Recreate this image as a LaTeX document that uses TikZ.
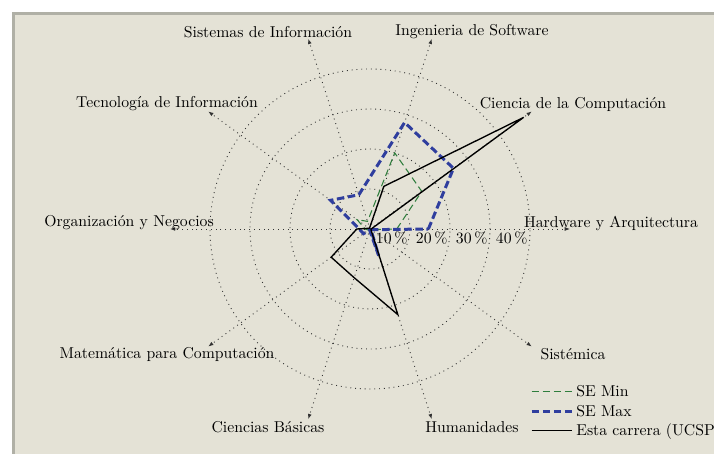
\documentclass[tikz,border=0pt]{standalone}
\usetikzlibrary{arrows.meta}
\definecolor{bgbeige}{HTML}{E4E2D6}
\definecolor{framegray}{HTML}{B0B0A6}
\definecolor{semin}{HTML}{2E7D3C}
\definecolor{semax}{HTML}{2F3E9E}
\tikzset{
  gridline/.style={line width=0.6pt, dash pattern=on 0.6pt off 2.6pt, black!80},
  axisline/.style={gridline, -{Latex[length=3.5pt,width=2.6pt]}},
  lbl/.style={inner sep=0pt},
  pct/.style={inner sep=1.5pt, anchor=north east},
  minline/.style={semin, line width=0.7pt, dash pattern=on 4.667pt off 2.667pt},
  maxline/.style={semax, line width=2pt, dash pattern=on 5pt off 2.4pt},
  ucspline/.style={black, line width=0.9pt, line join=miter},
  legtext/.style={inner sep=0pt, anchor=base west},
}
\begin{document}
\begin{tikzpicture}[x=0.6667pt,y=0.6667pt, every node/.style={font=\fontsize{10.5}{12.6}\selectfont}]
\clip (-370,-225) rectangle (344,229);
\fill[white] (-370,-225) rectangle (344,229);
\draw[framegray, line width=2pt, fill=bgbeige] (-356.5,215.5) rectangle (420,-300);
\coordinate (O) at (0,0);
% grid circles
\foreach \r in {40,80,120,160} \draw[gridline] (O) circle[radius=\r];
% axis ends
\coordinate (eH) at (0:200);
\coordinate (eCC) at (36:200);
\coordinate (eIS) at (72:200);
\coordinate (eSI) at (108:200);
\coordinate (eTI) at (144:200);
\coordinate (eON) at (180:200);
\coordinate (eMC) at (216:200);
\coordinate (eCB) at (252:200);
\coordinate (eHU) at (288:200);
\coordinate (eSM) at (324:200);
\foreach \e in {eH,eCC,eIS,eSI,eTI,eON,eMC,eCB,eHU,eSM} \draw[axisline] (O) -- (\e);
% axis labels
\node[lbl] (lH) at (241,6) {Hardware y Arquitectura};
\node[lbl] (lCC) at (203,125) {Ciencia de la Computación};
\node[lbl] (lIS) at (102,197) {Ingenieria de Software};
\node[lbl] (lSI) at (-102,197) {Sistemas de Información};
\node[lbl] (lTI) at (-203,125) {Tecnología de Información};
\node[lbl] (lON) at (-241,6) {Organización y Negocios};
\node[lbl] (lMC) at (-203,-125) {Matemática para Computación};
\node[lbl] (lCB) at (-102,-198) {Ciencias Básicas};
\node[lbl] (lHU) at (102,-198) {Humanidades};
\node[lbl] (lSM) at (203,-125) {Sistémica};
% data
\draw[minline] (0:26.8) -- (36:64) -- (72:80) -- (108:8) -- (144:16) -- (180:4.8) -- (216:2) -- (252:1.2) -- (288:1.2) -- (324:1.2) -- cycle;
\draw[maxline] (0:58.4) -- (36:103.2) -- (72:112) -- (108:36) -- (144:48.8) -- (180:10.8) -- (216:8) -- (252:1.2) -- (288:28) -- (324:1.2) -- cycle;
\draw[ucspline] (0:1.2) -- (36:190) -- (72:44.8) -- (108:1.2) -- (144:1.2) -- (180:13.2) -- (216:48) -- (252:51.2) -- (288:90) -- (324:1.2) -- cycle;
% percent labels
\node[pct] (p10) at (40,0) {10\,\%};
\node[pct] (p20) at (80,0) {20\,\%};
\node[pct] (p30) at (120,0) {30\,\%};
\node[pct] (p40) at (160,0) {40\,\%};
% legend
\coordinate (m1) at (161.7,-162.7);
\coordinate (m2) at (201.7,-162.7);
\coordinate (x1) at (161.7,-182.7);
\coordinate (x2) at (201.7,-182.7);
\coordinate (u1) at (161.7,-201.5);
\coordinate (u2) at (201.7,-201.5);
\draw[minline] (m1) -- (m2);
\draw[maxline] (x1) -- (x2);
\draw[ucspline] (u1) -- (u2);
\node[legtext] (tmin) at (206,-168) {SE Min};
\node[legtext] (tmax) at (206,-188) {SE Max};
\node[legtext] (tucsp) at (206,-206.5) {Esta carrera (UCSP};
\end{tikzpicture}
\end{document}
